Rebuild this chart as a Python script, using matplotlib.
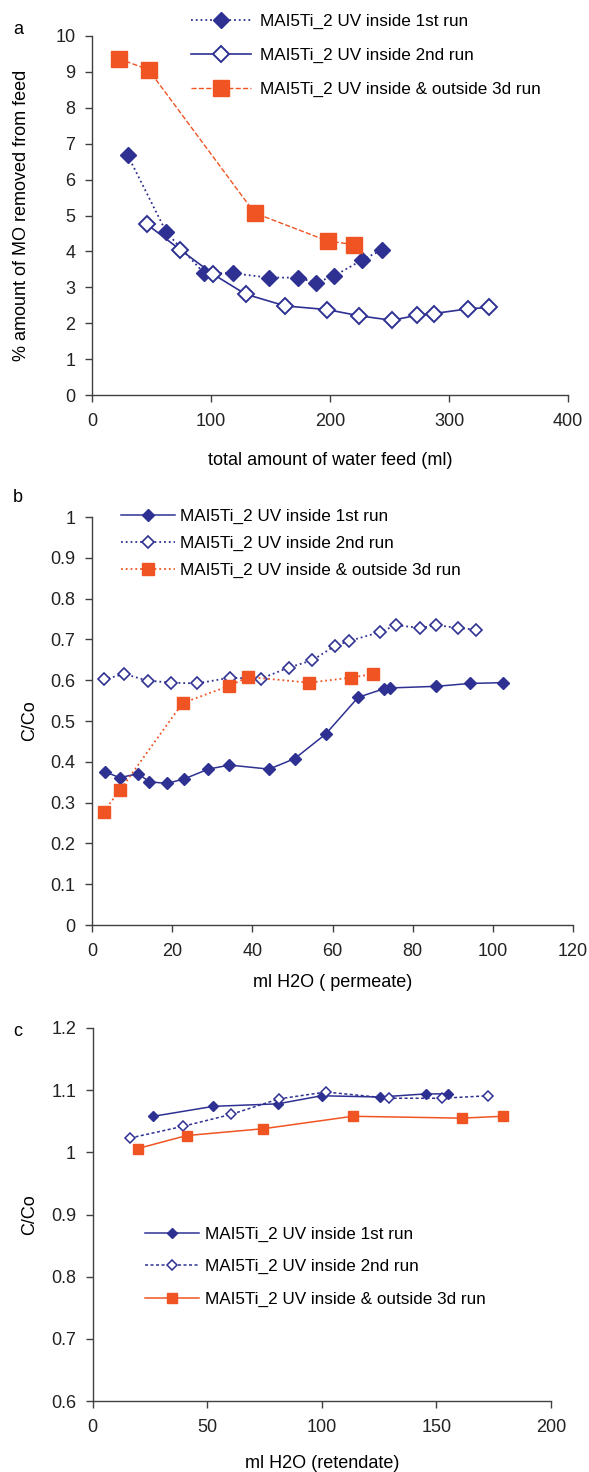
import matplotlib
matplotlib.use("Agg")
import matplotlib.pyplot as plt
import numpy as np

plt.rcParams['font.family'] = ['Liberation Sans', 'DejaVu Sans']
plt.rcParams['font.size'] = 13

BLUE = '#2e3192'
RED = '#f05423'
AXC = '#404040'

# panel a: % MO removed vs total water feed
a_x1 = [30, 62.5, 94, 118.5, 148.5, 173, 188, 203, 227, 244]
a_y1 = [6.68, 4.53, 3.40, 3.39, 3.27, 3.27, 3.13, 3.31, 3.76, 4.05]
a_x2 = [46, 74, 102, 129, 162.5, 197.5, 224, 252, 273, 287.5, 316, 334]
a_y2 = [4.76, 4.05, 3.36, 2.81, 2.48, 2.38, 2.21, 2.08, 2.22, 2.27, 2.40, 2.44]
a_x3 = [22.4, 47.6, 136.7, 198, 220]
a_y3 = [9.37, 9.06, 5.07, 4.29, 4.19]

# panel b: C/Co permeate
b_x1 = [3.2, 6.9, 11.5, 14.3, 18.7, 23.0, 29.0, 34.3, 44.2, 50.6, 58.3, 66.4, 72.8, 74.4, 85.9, 94.2, 102.5]
b_y1 = [0.376, 0.361, 0.371, 0.351, 0.347, 0.358, 0.382, 0.392, 0.382, 0.408, 0.468, 0.558, 0.579, 0.581, 0.585, 0.592, 0.594]
b_x2 = [2.9, 8.1, 13.9, 19.7, 26.1, 34.4, 42.2, 49.1, 55.0, 60.6, 64.1, 71.9, 75.8, 81.9, 85.9, 91.3, 95.9]
b_y2 = [0.602, 0.615, 0.599, 0.594, 0.592, 0.606, 0.604, 0.631, 0.649, 0.684, 0.696, 0.718, 0.735, 0.728, 0.735, 0.728, 0.724]
b_x3 = [2.9, 7.1, 22.6, 34.2, 39.0, 54.1, 64.5, 70.0]
b_y3 = [0.278, 0.332, 0.544, 0.586, 0.608, 0.594, 0.606, 0.615]

# panel c: C/Co retendate
c_x1 = [26.5, 52.7, 80.7, 99.9, 125.4, 145.3, 155.2]
c_y1 = [1.058, 1.074, 1.078, 1.091, 1.089, 1.094, 1.094]
c_x2 = [16.3, 39.6, 60.4, 81.3, 101.7, 129.3, 152.6, 172.4]
c_y2 = [1.023, 1.042, 1.061, 1.086, 1.097, 1.087, 1.087, 1.091]
c_x3 = [19.6, 41.0, 74.5, 113.5, 161.0, 178.9]
c_y3 = [1.006, 1.027, 1.038, 1.058, 1.055, 1.058]

lab1 = 'MAI5Ti_2 UV inside 1st run'
lab2 = 'MAI5Ti_2 UV inside 2nd run'
lab3 = 'MAI5Ti_2 UV inside & outside 3d run'

W, H = 589, 1472
fig = plt.figure(figsize=(W / 100, H / 100), dpi=100)


def make_axes(x0, x1, ytop, ybot):
    ax = fig.add_axes([x0 / W, 1 - ybot / H, (x1 - x0) / W, (ybot - ytop) / H])
    for s in ['top', 'right']:
        ax.spines[s].set_visible(False)
    for s in ['left', 'bottom']:
        ax.spines[s].set_color(AXC)
        ax.spines[s].set_linewidth(1.0)
    ax.tick_params(direction='out', length=5, width=1.0, color=AXC, labelcolor='#222222',
                   labelsize=13)
    ax.tick_params(axis='x', pad=8)
    ax.tick_params(axis='y', pad=7)
    return ax


def fmt(vals):
    return ['%g' % round(v, 2) for v in vals]


LEG = dict(loc='upper left', frameon=False, borderpad=0, borderaxespad=0, fontsize=12.3)

# ---- a ----
ax = make_axes(92, 568, 36, 395)
ax.plot(a_x1, a_y1, ':', color=BLUE, lw=1.3, marker='D', ms=8, mfc=BLUE, mec=BLUE, label=lab1)
ax.plot(a_x2, a_y2, '-', color=BLUE, lw=1.2, marker='D', ms=8, mfc='white', mec=BLUE, mew=1.4, label=lab2)
ax.plot(a_x3, a_y3, '--', color=RED, lw=1.0, marker='s', ms=11, mfc=RED, mec=RED, label=lab3)
ax.set_xlim(0, 400)
ax.set_ylim(0, 10)
ax.set_xticks(np.arange(0, 401, 100))
ax.set_yticks(np.arange(0, 11, 1))
ax.set_xlabel('total amount of water feed (ml)', fontsize=13)
ax.xaxis.set_label_coords(0.5, -0.159)
ax.set_ylabel('% amount of MO removed from feed', fontsize=13)
ax.yaxis.set_label_coords(-0.130, 0.5)
ax.legend(bbox_to_anchor=(0.209, 1.061), handlelength=3.5, handletextpad=0.49,
          labelspacing=1.09, **LEG)
fig.text(13 / W, 1 - 30 / H, 'a', fontsize=13, va='center')

# ---- b ----
ax = make_axes(92, 573, 517, 925)
ax.plot(b_x1, b_y1, '-', color=BLUE, lw=1.1, marker='D', ms=6.2, mfc=BLUE, mec=BLUE, label=lab1)
ax.plot(b_x2, b_y2, ':', color=BLUE, lw=1.3, marker='D', ms=6.2, mfc='white', mec=BLUE, mew=1.2, label=lab2)
ax.plot(b_x3, b_y3, ':', color=RED, lw=1.3, marker='s', ms=9, mfc=RED, mec=RED, label=lab3)
ax.set_xlim(0, 120)
ax.set_ylim(0, 1)
ax.set_xticks(np.arange(0, 121, 20))
yt = np.arange(0, 1.01, 0.1)
ax.set_yticks(yt)
ax.set_yticklabels(fmt(yt))
ax.set_xlabel('ml H2O ( permeate)', fontsize=13)
ax.xaxis.set_label_coords(0.5, -0.120)
ax.set_ylabel('C/Co', fontsize=13)
ax.yaxis.set_label_coords(-0.112, 0.5)
ax.legend(bbox_to_anchor=(0.06, 1.0196), handlelength=3.16, handletextpad=0.33,
          labelspacing=0.68, **LEG)
fig.text(13 / W, 1 - 498 / H, 'b', fontsize=13, va='center')

# ---- c ----
ax = make_axes(92.7, 551, 1028, 1401)
ax.plot(c_x1, c_y1, '-', color=BLUE, lw=1.1, marker='D', ms=5.6, mfc=BLUE, mec=BLUE, label=lab1)
ax.plot(c_x2, c_y2, linestyle=(0, (2, 1.6)), color=BLUE, lw=1.1, marker='D', ms=5.6,
        mfc='white', mec=BLUE, mew=1.1, label=lab2)
ax.plot(c_x3, c_y3, '-', color=RED, lw=1.1, marker='s', ms=6.8, mfc=RED, mec=RED, label=lab3)
ax.set_xlim(0, 200)
ax.set_ylim(0.6, 1.2)
ax.set_xticks(np.arange(0, 201, 50))
yt = np.arange(0.6, 1.21, 0.1)
ax.set_yticks(yt)
ax.set_yticklabels(fmt(yt))
ax.set_xlabel('ml H2O (retendate)', fontsize=13)
ax.xaxis.set_label_coords(0.5, -0.1448)
ax.set_ylabel('C/Co', fontsize=13)
ax.yaxis.set_label_coords(-0.119, 0.5)
ax.legend(bbox_to_anchor=(0.114, 0.4676), handlelength=3.16, handletextpad=0.33,
          labelspacing=1.03, **LEG)
fig.text(13 / W, 1 - 1031 / H, 'c', fontsize=13, va='center')

fig.savefig('out.png', dpi=100)
